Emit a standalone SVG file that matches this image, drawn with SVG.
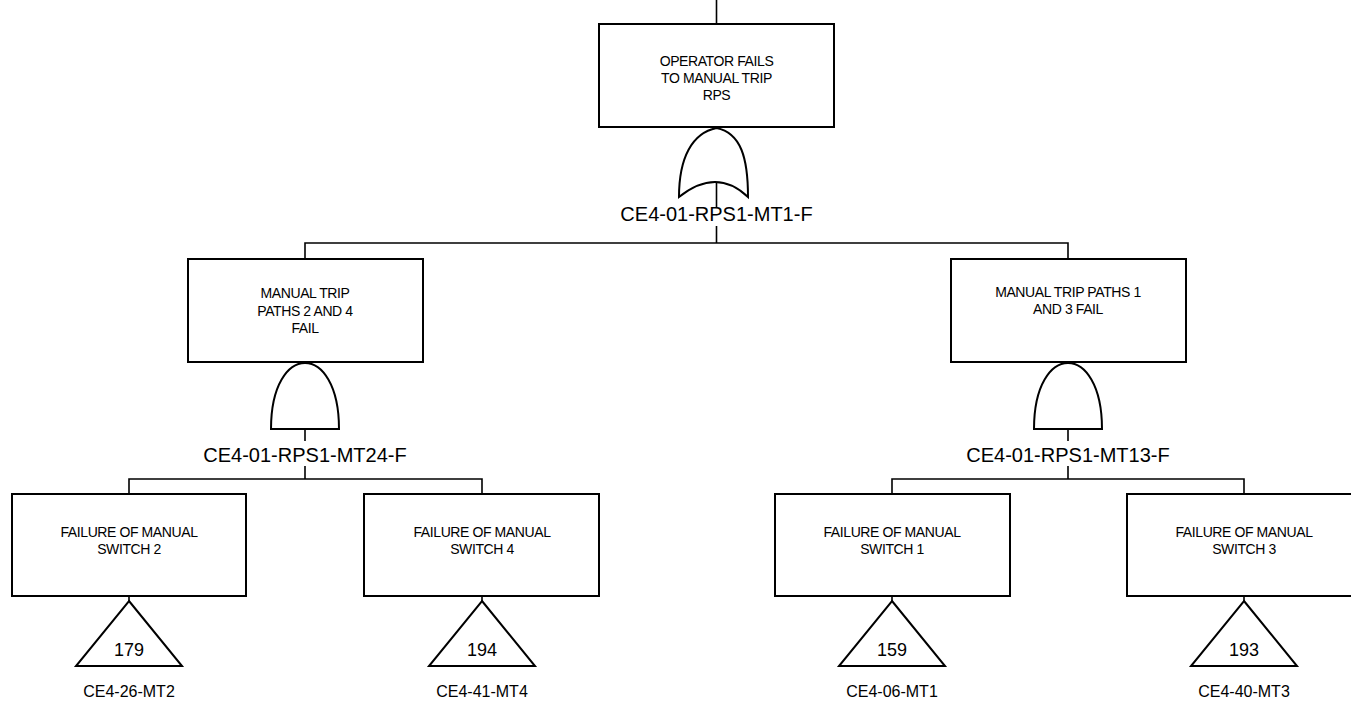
<svg xmlns="http://www.w3.org/2000/svg" width="1351" height="702" viewBox="0 0 1351 702">
<style>
.box{fill:#fff;stroke:#000;stroke-width:2}
.gate{fill:#fff;stroke:#000;stroke-width:2}
.ln{fill:none;stroke:#000;stroke-width:1.6}
.bt{font-family:"Liberation Sans",Arial,sans-serif;font-size:14px;letter-spacing:-0.4px;text-anchor:middle;fill:#000}
.lb{font-family:"Liberation Sans",Arial,sans-serif;font-size:20px;text-anchor:middle;fill:#000}
.lbs{font-family:"Liberation Sans",Arial,sans-serif;font-size:16px;text-anchor:middle;fill:#000}
.num{font-family:"Liberation Sans",Arial,sans-serif;font-size:18px;text-anchor:middle;fill:#000}
</style>
<rect width="1351" height="702" fill="#fff"/>
<g id="connectors">
<path class="ln" d="M716.5 0V24"/>
<path class="ln" d="M716.5 182V207M716.5 226V243"/>
<path class="ln" d="M305 259V243H1068V259"/>
<path class="ln" d="M305 429V441M305 466V479"/>
<path class="ln" d="M1068 429V441M1068 466V479"/>
<path class="ln" d="M129 494V479H482V494"/>
<path class="ln" d="M892 494V479H1244V494"/>
<path class="ln" d="M129 596V601M482 596V601M892 596V601M1244 596V601"/>
</g>
<g id="top">
<rect class="box" x="599" y="24" width="235" height="103"/>
<text class="bt" x="716.5" y="65.5">OPERATOR FAILS</text>
<text class="bt" x="716.5" y="82.5">TO MANUAL TRIP</text>
<text class="bt" x="716.5" y="99.5">RPS</text>
</g>
<g id="gate-or">
<path class="gate" d="M679 197C679 158 692 133 716.5 128C741 133 748 158 748 197Q716.5 167 679 197Z"/>
<text class="lb" x="716.5" y="221">CE4-01-RPS1-MT1-F</text>
</g>
<g id="mid-left">
<rect class="box" x="188" y="259" width="235" height="103"/>
<text class="bt" x="305" y="298">MANUAL TRIP</text>
<text class="bt" x="305" y="315.5">PATHS 2 AND 4</text>
<text class="bt" x="305" y="333">FAIL</text>
</g>
<g id="gate-and-left">
<path class="gate" d="M271 429C271 385 288 363 305 363C322 363 339 385 339 429Z"/>
<text class="lb" x="305" y="462">CE4-01-RPS1-MT24-F</text>
</g>
<g id="mid-right">
<rect class="box" x="951" y="259" width="235" height="103"/>
<text class="bt" x="1068" y="296.5">MANUAL TRIP PATHS 1</text>
<text class="bt" x="1068" y="313.5">AND 3 FAIL</text>
</g>
<g id="gate-and-right">
<path class="gate" d="M1034 429C1034 385 1051 363 1068 363C1085 363 1102 385 1102 429Z"/>
<text class="lb" x="1068" y="462">CE4-01-RPS1-MT13-F</text>
</g>
<g id="sw2">
<rect class="box" x="12" y="494" width="234" height="102"/>
<text class="bt" x="129" y="537">FAILURE OF MANUAL</text>
<text class="bt" x="129" y="554">SWITCH 2</text>
<path class="gate" d="M129 601L182 666H76Z"/>
<text class="num" x="129" y="656">179</text>
<text class="lbs" x="129" y="697">CE4-26-MT2</text>
</g>
<g id="sw4">
<rect class="box" x="364" y="494" width="235" height="102"/>
<text class="bt" x="482" y="537">FAILURE OF MANUAL</text>
<text class="bt" x="482" y="554">SWITCH 4</text>
<path class="gate" d="M482 601L535 666H429Z"/>
<text class="num" x="482" y="656">194</text>
<text class="lbs" x="482" y="697">CE4-41-MT4</text>
</g>
<g id="sw1">
<rect class="box" x="775" y="494" width="235" height="102"/>
<text class="bt" x="892" y="537">FAILURE OF MANUAL</text>
<text class="bt" x="892" y="554">SWITCH 1</text>
<path class="gate" d="M892 601L945 666H839Z"/>
<text class="num" x="892" y="656">159</text>
<text class="lbs" x="892" y="697">CE4-06-MT1</text>
</g>
<g id="sw3">
<rect class="box" x="1127" y="494" width="235" height="102"/>
<text class="bt" x="1244" y="537">FAILURE OF MANUAL</text>
<text class="bt" x="1244" y="554">SWITCH 3</text>
<path class="gate" d="M1244 601L1297 666H1191Z"/>
<text class="num" x="1244" y="656">193</text>
<text class="lbs" x="1244" y="697">CE4-40-MT3</text>
</g>
</svg>
